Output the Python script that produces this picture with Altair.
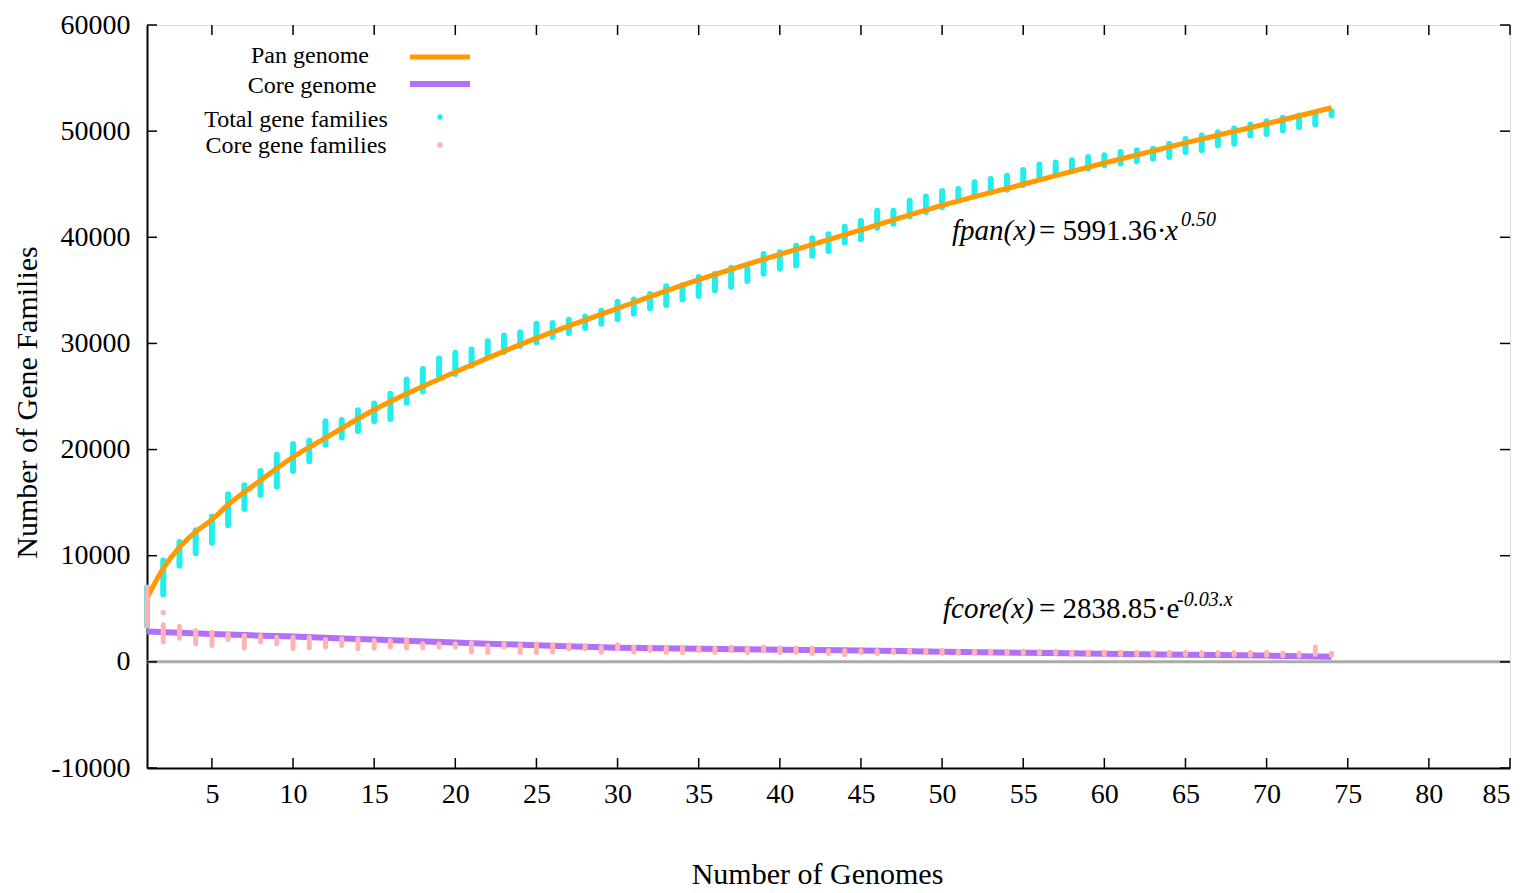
import altair as alt
import pandas as pd

# ---------------- data ----------------
genomes = list(range(1, 75))

total_lo = [3400, 6350, 9050, 10230, 11220, 12860, 14400, 15740, 16520, 17970,
            18900, 20450, 21130, 21750, 22680, 22870, 24420, 25470, 26960, 27120,
            27890, 28820, 29190, 29750, 30120, 30610, 30980, 31450, 31860, 32280,
            32790, 33310, 33620, 34150, 34460, 35020, 35330, 35890, 36570, 37030,
            37340, 38270, 38700, 39500, 39820, 40900, 41280, 41990, 42380, 42830,
            43540, 43840, 44250, 44470, 44930, 45710, 46010, 46230, 46480, 46790,
            46950, 47160, 47410, 47570, 48030, 48190, 48650, 48810, 49580, 49740,
            50050, 50360, 50630, 51470]
total_hi = [7000, 9550, 11300, 12400, 13700, 15800, 16640, 17970, 19520, 20520,
            20820, 22680, 22780, 23700, 24330, 25260, 26590, 27580, 28570, 29130,
            29430, 30210, 30740, 31050, 31860, 31920, 32230, 32540, 33090, 33930,
            34150, 34650, 35390, 35480, 36260, 36570, 37120, 37030, 38420, 38580,
            39200, 39910, 40280, 41000, 41530, 42510, 42510, 43440, 43840, 44370,
            44560, 45180, 45490, 45800, 46330, 46850, 47040, 47250, 47570, 47720,
            48030, 48190, 48340, 48810, 49270, 49580, 49890, 50260, 50630, 50940,
            51260, 51470, 51720, 51870]

core_lo = [3400, 1860, 2230, 1700, 1550, 2110, 1300, 1860, 1700, 1240,
           1330, 1400, 1550, 1240, 1300, 1400, 1300, 1300, 1400, 1400,
           930, 870, 1390, 870, 870, 930, 1240, 1240, 870, 1240,
           930, 1080, 870, 870, 1080, 870, 1080, 870, 1080, 870,
           870, 780, 780, 680, 870, 780, 870, 870, 870, 780,
           780, 780, 780, 780, 780, 780, 780, 700, 700, 700,
           700, 680, 680, 680, 680, 650, 650, 650, 620, 620,
           580, 580, 700, 620]
core_hi = [7000, 3500, 3350, 2950, 2790, 2630, 2480, 2480, 2320, 2320,
           2320, 2110, 2170, 2170, 2020, 2020, 2080, 1700, 1700, 1700,
           1800, 1550, 1700, 1610, 1700, 1610, 1610, 1550, 1390, 1610,
           1390, 1390, 1390, 1390, 1300, 1300, 1390, 1300, 1390, 1300,
           1300, 1300, 1080, 1080, 1080, 1080, 1080, 1080, 1080, 1080,
           1000, 1000, 1000, 1000, 1000, 1000, 1000, 930, 930, 930,
           930, 900, 900, 900, 900, 870, 870, 870, 870, 870,
           800, 800, 1400, 800]
core_extra_x = [2]
core_extra_y = [4650]

pan_curve_x = [1, 2, 3, 4, 5, 6, 8, 10, 12, 15, 20, 25, 30, 35, 40, 45, 50, 55, 60, 65, 70, 74]
pan_curve_y = [6000, 8800, 10800, 12250, 13400, 14800, 17100, 19300, 21100, 23750, 27300,
               30500, 33300, 36000, 38400, 40700, 43000, 45000, 47000, 48900, 50700, 52200]

core_curve_x = [1, 5, 10, 15, 20, 25, 30, 35, 40, 45, 50, 55, 60, 65, 70, 74]
core_curve_y = [2850, 2620, 2380, 2100, 1820, 1560, 1330, 1230, 1140, 1060, 950, 860, 760, 680, 590, 470]

x_ticks = list(range(5, 90, 5))
y_ticks = list(range(-10000, 60001, 10000))

# ---------------- styling ----------------
W, H = 1363, 743
FONT = "Liberation Serif"
ORANGE = "#ff9a00"
PURPLE = "#b070f8"
CYAN = "#22eeee"
PINK = "#ffb3b3"

xscale = alt.Scale(domain=[1, 85], nice=False, zero=False)
yscale = alt.Scale(domain=[-10000, 60000], nice=False, zero=False)
xaxis = alt.Axis(values=x_ticks, ticks=False, tickSize=0, grid=False,
                 domainColor="black", domainWidth=2,
                 labelFontSize=28, labelPadding=12, labelColor="black", labelFont=FONT,
                 title="Number of Genomes", titleFontSize=30, titleFontWeight="normal",
                 titleFont=FONT, titleColor="black",
                 titleX=670, titleY=106, titleBaseline="middle", titleAlign="center")
yaxis = alt.Axis(values=y_ticks, labelExpr="'' + datum.value", ticks=False, tickSize=0, grid=False,
                 domainColor="black", domainWidth=2,
                 labelFontSize=28, labelPadding=17, labelColor="black", labelFont=FONT,
                 title="Number of Gene Families", titleFontSize=30, titleFontWeight="normal",
                 titleFont=FONT, titleColor="black", titleAngle=270,
                 titleX=-120, titleY=377, titleBaseline="middle", titleAlign="center")


def X(f):
    return alt.X(f, type="quantitative", scale=xscale, axis=xaxis)


def Y(f):
    return alt.Y(f, type="quantitative", scale=yscale, axis=yaxis)


df_total = pd.DataFrame({"g": genomes, "lo": total_lo, "hi": total_hi})
df_core = pd.DataFrame({"g": genomes, "lo": core_lo, "hi": core_hi})
df_core_extra = pd.DataFrame({"g": core_extra_x, "v": core_extra_y})
df_pan_curve = pd.DataFrame({"g": pan_curve_x, "v": pan_curve_y})
df_core_curve = pd.DataFrame({"g": core_curve_x, "v": core_curve_y})
df_zero = pd.DataFrame({"v": [0]})
df_xt = pd.DataFrame({"g": x_ticks})
df_yt = pd.DataFrame({"v": y_ticks})
one = pd.DataFrame({"a": [0]})

zero_line = alt.Chart(df_zero).mark_rule(color="#aaaaaa", strokeWidth=3).encode(y=Y("v"))

total_pts = alt.Chart(df_total).mark_rule(color=CYAN, strokeWidth=6, strokeCap="round").encode(
    x=X("g"), y=Y("lo"), y2="hi")
pan_line = alt.Chart(df_pan_curve).mark_line(color=ORANGE, strokeWidth=5, interpolate="monotone").encode(
    x=X("g"), y=Y("v"))
core_line = alt.Chart(df_core_curve).mark_line(color=PURPLE, strokeWidth=6, interpolate="monotone").encode(
    x=X("g"), y=Y("v"))
core_pts = alt.Chart(df_core).mark_rule(color=PINK, strokeWidth=5, strokeCap="round").encode(
    x=X("g"), y=Y("lo"), y2="hi")
core_extra = alt.Chart(df_core_extra).mark_point(color=PINK, filled=True, opacity=1, size=28, shape="circle").encode(
    x=X("g"), y=Y("v"))

# inward ticks on all four sides
tick_bottom = alt.Chart(df_xt).mark_rule(color="black", strokeWidth=1.5).encode(
    x=X("g"), y=alt.value(H - 10), y2=alt.value(H))
tick_top = alt.Chart(df_xt).mark_rule(color="black", strokeWidth=1.5).encode(
    x=X("g"), y=alt.value(0), y2=alt.value(10))
tick_left = alt.Chart(df_yt).mark_rule(color="black", strokeWidth=1.5).encode(
    y=Y("v"), x=alt.value(0), x2=alt.value(10))
tick_right = alt.Chart(df_yt).mark_rule(color="black", strokeWidth=1.5).encode(
    y=Y("v"), x=alt.value(W - 10), x2=alt.value(W))


def txt(s, x, y, size, align="left", style="normal"):
    return alt.Chart(one).mark_text(align=align, baseline="alphabetic", fontSize=size,
                                    font=FONT, fontStyle=style, color="black").encode(
        x=alt.value(x), y=alt.value(y), text=alt.value(s))


legend = [
    txt("Pan genome", 163, 38, 24, "center"),
    txt("Core genome", 165, 68, 24, "center"),
    txt("Total gene families", 149, 102, 24, "center"),
    txt("Core gene families", 149, 128, 24, "center"),
    alt.Chart(one).mark_rule(color=ORANGE, strokeWidth=5).encode(
        x=alt.value(263), x2=alt.value(323), y=alt.value(32)),
    alt.Chart(one).mark_rule(color=PURPLE, strokeWidth=6).encode(
        x=alt.value(263), x2=alt.value(323), y=alt.value(59)),
    alt.Chart(one).mark_point(color=CYAN, filled=True, opacity=1, size=30, shape="circle").encode(
        x=alt.value(293), y=alt.value(92)),
    alt.Chart(one).mark_point(color=PINK, filled=True, opacity=1, size=30, shape="circle").encode(
        x=alt.value(293), y=alt.value(120)),
]

equations = [
    txt("fpan(x)", 805, 215, 29, style="italic"),
    txt("= 5991.36·", 892, 215, 29),
    txt("x", 1018, 215, 29, style="italic"),
    txt("0.50", 1034, 201, 20, style="italic"),
    txt("fcore(x)", 796, 593, 29, style="italic"),
    txt("= 2838.85·e", 892, 593, 29),
    txt("-0.03.x", 1030, 581, 20, style="italic"),
]

chart = alt.layer(
    zero_line, total_pts, pan_line, core_line, core_pts, core_extra,
    tick_bottom, tick_top, tick_left, tick_right,
    *legend, *equations
).properties(
    width=W, height=H,
    autosize=alt.AutoSizeParams(type="none"),
    padding={"left": 139, "top": 17, "right": 17, "bottom": 123},
    background="white",
).configure_view(
    stroke="#999999", strokeWidth=1.5
).configure(font=FONT)

chart.save("out.html", embed_options={"renderer": "svg", "actions": False})
